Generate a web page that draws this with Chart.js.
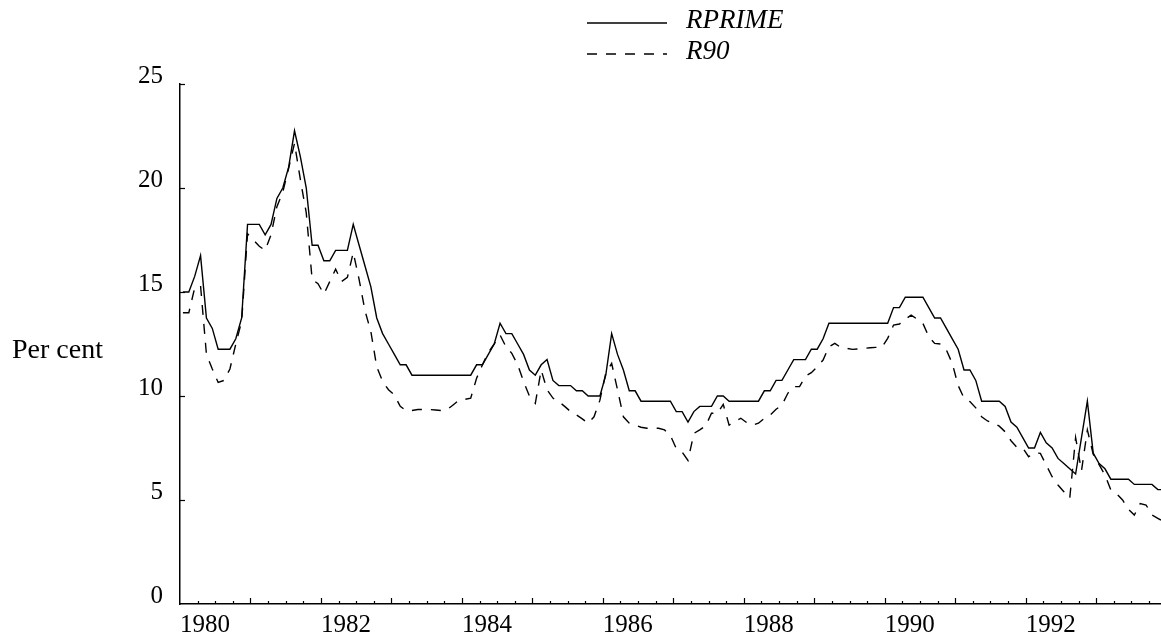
<!DOCTYPE html>
<html>
<head>
<meta charset="utf-8">
<script src="https://cdn.jsdelivr.net/npm/chart.js@4.4.1/dist/chart.umd.min.js"></script>
<style>
  html, body { margin: 0; padding: 0; background: #fff; }
  #wrap { width: 1161px; height: 643px; }
</style>
</head>
<body>
<div id="wrap"><canvas id="rates" width="1161" height="643"></canvas></div>
<script>
// monthly series, Jan 1980 onwards
const startYear = 1980;

const rprime = [
  15.0, 15.0, 15.75, 16.75, 13.75, 13.25, 12.25, 12.25, 12.25, 12.75, 13.75, 18.25,
  18.25, 18.25, 17.75, 18.25, 19.5, 20.0, 21.0, 22.75, 21.5, 20.0, 17.25, 17.25,
  16.5, 16.5, 17.0, 17.0, 17.0, 18.25, 17.25, 16.25, 15.25, 13.75, 13.0, 12.5,
  12.0, 11.5, 11.5, 11.0, 11.0, 11.0, 11.0, 11.0, 11.0, 11.0, 11.0, 11.0,
  11.0, 11.0, 11.5, 11.5, 12.0, 12.5, 13.5, 13.0, 13.0, 12.5, 12.0, 11.25,
  11.0, 11.5, 11.75, 10.75, 10.5, 10.5, 10.5, 10.25, 10.25, 10.0, 10.0, 10.0,
  11.0, 13.0, 12.0, 11.25, 10.25, 10.25, 9.75, 9.75, 9.75, 9.75, 9.75, 9.75,
  9.25, 9.25, 8.75, 9.25, 9.5, 9.5, 9.5, 10.0, 10.0, 9.75, 9.75, 9.75,
  9.75, 9.75, 9.75, 10.25, 10.25, 10.75, 10.75, 11.25, 11.75, 11.75, 11.75, 12.25,
  12.25, 12.75, 13.5, 13.5, 13.5, 13.5, 13.5, 13.5, 13.5, 13.5, 13.5, 13.5,
  13.5, 14.25, 14.25, 14.75, 14.75, 14.75, 14.75, 14.25, 13.75, 13.75, 13.25, 12.75,
  12.25, 11.25, 11.25, 10.75, 9.75, 9.75, 9.75, 9.75, 9.5, 8.75, 8.5, 8.0,
  7.5, 7.5, 8.25, 7.75, 7.5, 7.0, 6.75, 6.5, 6.25, 8.0, 9.75, 7.25,
  6.75, 6.5, 6.0, 6.0, 6.0, 6.0, 5.75, 5.75, 5.75, 5.75, 5.5, 5.5
];

const r90 = [
  14.0, 14.0, 15.2, 15.3, 12.0, 11.3, 10.65, 10.75, 11.3, 12.5, 13.6, 17.8,
  17.5, 17.2, 17.0, 17.75, 19.1, 19.8, 20.95, 22.15, 20.4, 18.8, 15.6, 15.4,
  14.9, 15.5, 16.1, 15.5, 15.7, 16.9, 15.6, 14.1, 13.1, 11.4, 10.7, 10.3,
  10.05, 9.5, 9.3, 9.3, 9.35, 9.35, 9.35, 9.33, 9.3, 9.35, 9.57, 9.8,
  9.84, 9.9, 10.85, 11.5, 12.1, 12.5, 12.93, 12.37, 12.05, 11.5, 10.7, 10.0,
  9.65, 11.25, 10.3, 9.9, 9.73, 9.5, 9.25, 9.09, 8.9, 8.69, 9.0, 9.8,
  11.1, 11.57, 10.3, 9.0, 8.69, 8.6, 8.5, 8.45, 8.45, 8.45, 8.37, 8.1,
  7.48, 7.3, 6.9, 8.2, 8.37, 8.56, 9.17, 9.17, 9.6, 8.6, 8.77, 8.93,
  8.72, 8.6, 8.69, 8.93, 9.09, 9.36, 9.57, 10.13, 10.45, 10.45, 10.96, 11.12,
  11.41, 11.73, 12.37, 12.53, 12.34, 12.29, 12.24, 12.26, 12.29, 12.32, 12.34, 12.34,
  12.77, 13.41, 13.46, 13.69, 13.89, 13.7, 13.49, 12.85, 12.53, 12.5, 12.21, 11.57,
  10.5, 9.9, 9.73, 9.43, 9.0, 8.8, 8.7, 8.55, 8.28, 7.85, 7.53, 7.5,
  7.08, 7.27, 7.24, 6.68, 6.12, 5.72, 5.4, 5.08, 8.0, 6.4, 8.37, 7.2,
  6.7, 6.2, 5.48, 5.3, 5.0, 4.55, 4.28, 4.83, 4.76, 4.28, 4.12, 3.96
];

const yearLabels = [1980, 1982, 1984, 1986, 1988, 1990, 1992];
const yTicks = [0, 5, 10, 15, 20, 25];
const yTitle = "Per cent";

const serif = "'Liberation Serif', 'Times New Roman', serif";

// each month plotted at its middle
function toPoints(values) {
  return values.map((v, i) => ({ x: startYear + (i + 0.5) / 12, y: v }));
}

// small inward tick marks, legend and the horizontal y title
const decorations = {
  id: "decorations",
  afterDraw(chart) {
    const ctx = chart.ctx;
    const xs = chart.scales.x;
    const ys = chart.scales.y;
    const area = chart.chartArea;

    ctx.save();
    ctx.strokeStyle = "#000";
    ctx.lineWidth = 1.2;

    // x: quarters, taller at each year
    for (let yr = Math.ceil(xs.min); yr <= xs.max; yr++) {
      for (let q = 0; q < 4; q++) {
        const v = yr + q / 4;
        if (v <= xs.min || v > xs.max) continue;
        const px = Math.round(xs.getPixelForValue(v)) + 0.5;
        const len = q === 0 ? 6 : 3;
        ctx.beginPath();
        ctx.moveTo(px, area.bottom);
        ctx.lineTo(px, area.bottom - len);
        ctx.stroke();
      }
    }

    // y ticks pointing right
    yTicks.forEach(v => {
      if (v === 0) return;
      const py = Math.round(ys.getPixelForValue(v)) + 0.5;
      ctx.beginPath();
      ctx.moveTo(area.left, py);
      ctx.lineTo(area.left + 5, py);
      ctx.stroke();
    });

    // legend
    const rows = [23, 54];
    ctx.font = "italic 27px " + serif;
    ctx.fillStyle = "#000";
    ctx.textBaseline = "middle";
    chart.data.datasets.forEach((ds, i) => {
      ctx.lineWidth = 1.6;
      ctx.setLineDash(ds.borderDash || []);
      ctx.beginPath();
      ctx.moveTo(587, rows[i]);
      ctx.lineTo(667, rows[i]);
      ctx.stroke();
      ctx.setLineDash([]);
      ctx.fillText(ds.label, 686, rows[i] - 2);
    });

    // y title, horizontal
    ctx.font = "28px " + serif;
    ctx.textAlign = "left";
    ctx.fillText(yTitle, 12, 351);
    ctx.restore();
  }
};

const ctx = document.getElementById("rates").getContext("2d");
const ratesChart = new Chart(ctx, {
  type: "line",
  data: {
    datasets: [
      {
        label: "RPRIME",
        data: toPoints(rprime),
        borderColor: "#000",
        borderWidth: 1.4,
        pointRadius: 0,
        tension: 0,
        fill: false
      },
      {
        label: "R90",
        data: toPoints(r90),
        borderColor: "#000",
        borderWidth: 1.4,
        borderDash: [10, 9],
        pointRadius: 0,
        tension: 0,
        fill: false
      }
    ]
  },
  options: {
    responsive: false,
    animation: false,
    layout: { padding: { top: 84, right: 0, bottom: 0, left: 0 } },
    plugins: {
      legend: { display: false },
      tooltip: { enabled: false }
    },
    scales: {
      x: {
        type: "linear",
        min: 1980,
        max: 1993.92,
        afterBuildTicks: scale => { scale.ticks = yearLabels.map(v => ({ value: v })); },
        afterFit: scale => { scale.height = 39; },
        grid: { display: false, drawTicks: false },
        border: { display: true, color: "#000", width: 1.5 },
        ticks: {
          align: "start",
          padding: 6,
          autoSkip: false,
          maxRotation: 0,
          color: "#000",
          font: { family: serif, size: 25 },
          callback: v => String(v)
        }
      },
      y: {
        min: 0,
        max: 25,
        afterBuildTicks: scale => { scale.ticks = yTicks.map(v => ({ value: v })); },
        afterFit: scale => { scale.width = 180; },
        grid: { display: false, drawTicks: false },
        border: { display: true, color: "#000", width: 1.5 },
        ticks: {
          padding: 17,
          labelOffset: -8,
          color: "#000",
          font: { family: serif, size: 25 },
          callback: v => String(v)
        }
      }
    }
  },
  plugins: [decorations]
});
</script>
</body>
</html>
